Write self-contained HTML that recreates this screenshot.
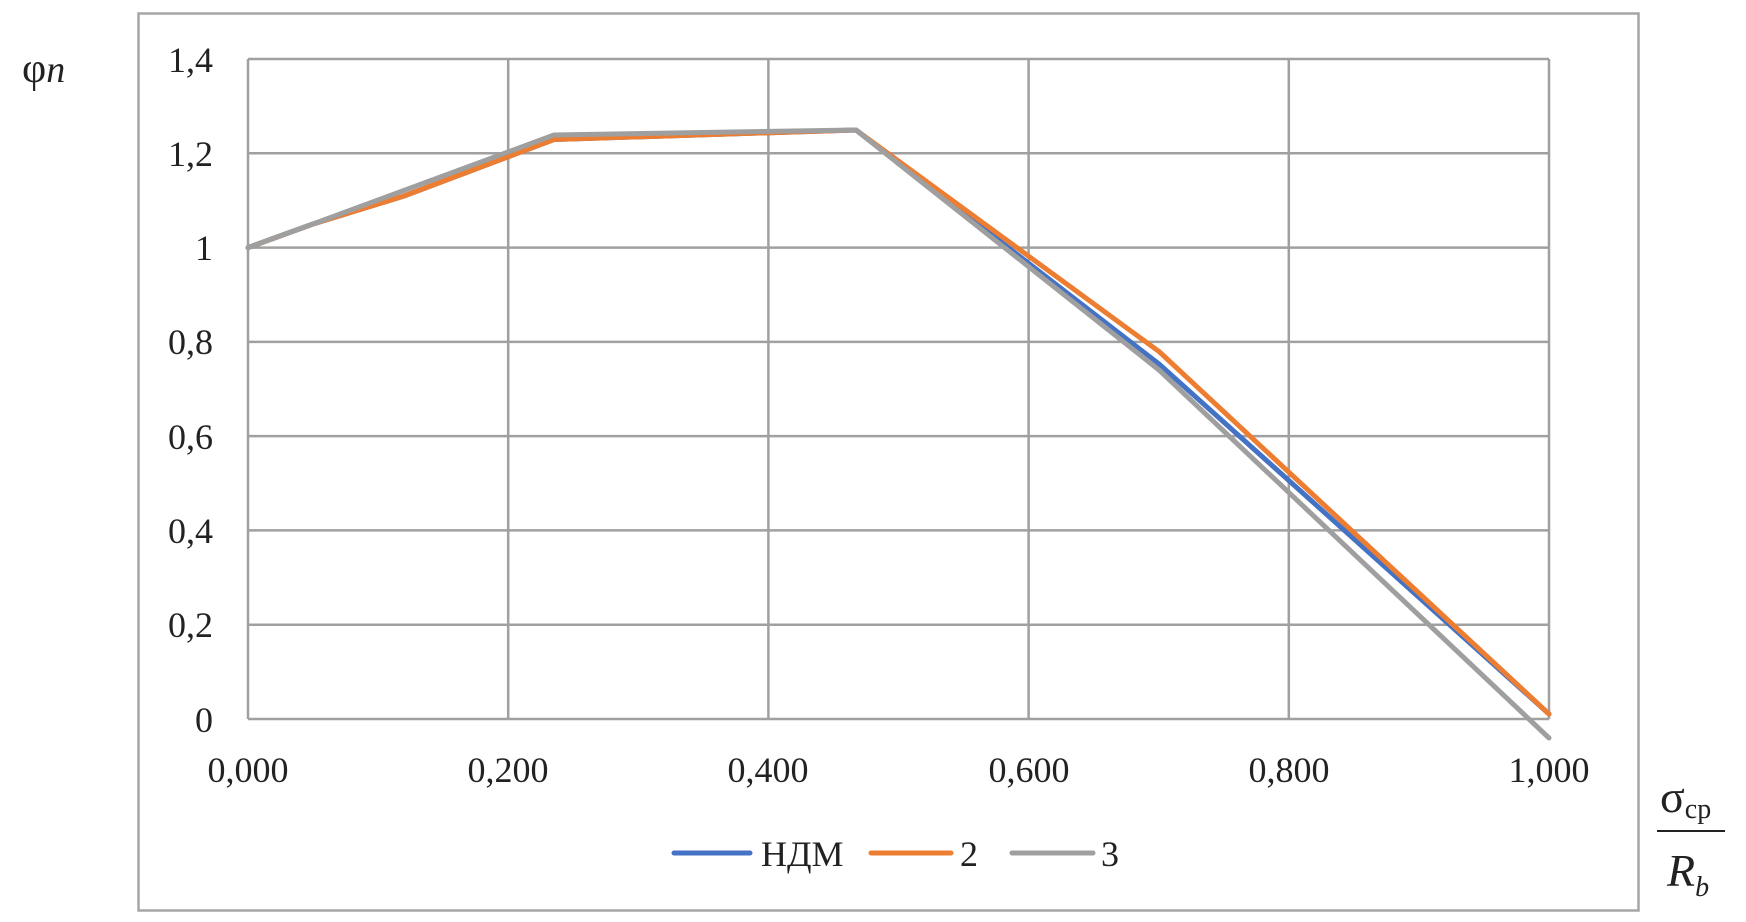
<!DOCTYPE html>
<html><head><meta charset="utf-8"><style>
body{margin:0;background:#fff}
svg text{font-family:"Liberation Serif",serif;fill:#222}
</style></head><body>
<svg width="1746" height="917" viewBox="0 0 1746 917" xmlns="http://www.w3.org/2000/svg">
<rect x="138.5" y="13.5" width="1500" height="897" fill="none" stroke="#a6a6a6" stroke-width="2.5"/>
<g stroke="#a0a0a0" stroke-width="2.5">
<line x1="248" y1="59" x2="1549" y2="59"/>
<line x1="248" y1="153.3" x2="1549" y2="153.3"/>
<line x1="248" y1="247.6" x2="1549" y2="247.6"/>
<line x1="248" y1="341.9" x2="1549" y2="341.9"/>
<line x1="248" y1="436.1" x2="1549" y2="436.1"/>
<line x1="248" y1="530.4" x2="1549" y2="530.4"/>
<line x1="248" y1="624.7" x2="1549" y2="624.7"/>
<line x1="248" y1="719" x2="1549" y2="719"/>
<line x1="248" y1="59" x2="248" y2="719"/>
<line x1="508.2" y1="59" x2="508.2" y2="719"/>
<line x1="768.4" y1="59" x2="768.4" y2="719"/>
<line x1="1028.6" y1="59" x2="1028.6" y2="719"/>
<line x1="1288.8" y1="59" x2="1288.8" y2="719"/>
<line x1="1549" y1="59" x2="1549" y2="719"/>
</g>
<g font-size="36" text-anchor="end">
<text x="213" y="72">1,4</text><text x="213" y="166">1,2</text><text x="213" y="260">1</text>
<text x="213" y="354">0,8</text><text x="213" y="449">0,6</text><text x="213" y="543">0,4</text>
<text x="213" y="637">0,2</text><text x="213" y="732">0</text>
</g>
<g font-size="36" text-anchor="middle">
<text x="248" y="782">0,000</text><text x="508" y="782">0,200</text><text x="768" y="782">0,400</text>
<text x="1029" y="782">0,600</text><text x="1289" y="782">0,800</text><text x="1549" y="782">1,000</text>
</g>
<g fill="none" stroke-width="5" stroke-linejoin="round" stroke-linecap="round">
<polyline stroke="#4472c4" points="248,247.6 313,224 404,196 554,139.5 856,130 1159,364 1549,714"/>
<polyline stroke="#ed7d31" points="248,247.6 313,224 404,196 554,139.5 856,130 1159,351.5 1549,714"/>
<polyline stroke="#9f9f9f" points="248,247.6 274,238 313,224 554,135 856,130 1159,370 1549,738"/>
</g>
<text x="22" y="82" font-size="42">φ<tspan font-style="italic" font-size="38">n</tspan></text>
<g stroke-width="5" stroke-linecap="round">
<line x1="674" y1="853" x2="750" y2="853" stroke="#4472c4"/>
<line x1="871" y1="853" x2="951" y2="853" stroke="#ed7d31"/>
<line x1="1012" y1="853" x2="1093" y2="853" stroke="#9f9f9f"/>
</g>
<g font-size="36">
<text x="761" y="866">НДМ</text><text x="960" y="866">2</text><text x="1101" y="866">3</text>
</g>
<text x="1660" y="812" font-size="46">σ<tspan font-size="28" dy="6">cp</tspan></text>
<line x1="1657" y1="831" x2="1725" y2="831" stroke="#222" stroke-width="2"/>
<text x="1667" y="886" font-size="46" font-style="italic">R<tspan font-size="28" dy="10">b</tspan></text>
</svg>
</body></html>
